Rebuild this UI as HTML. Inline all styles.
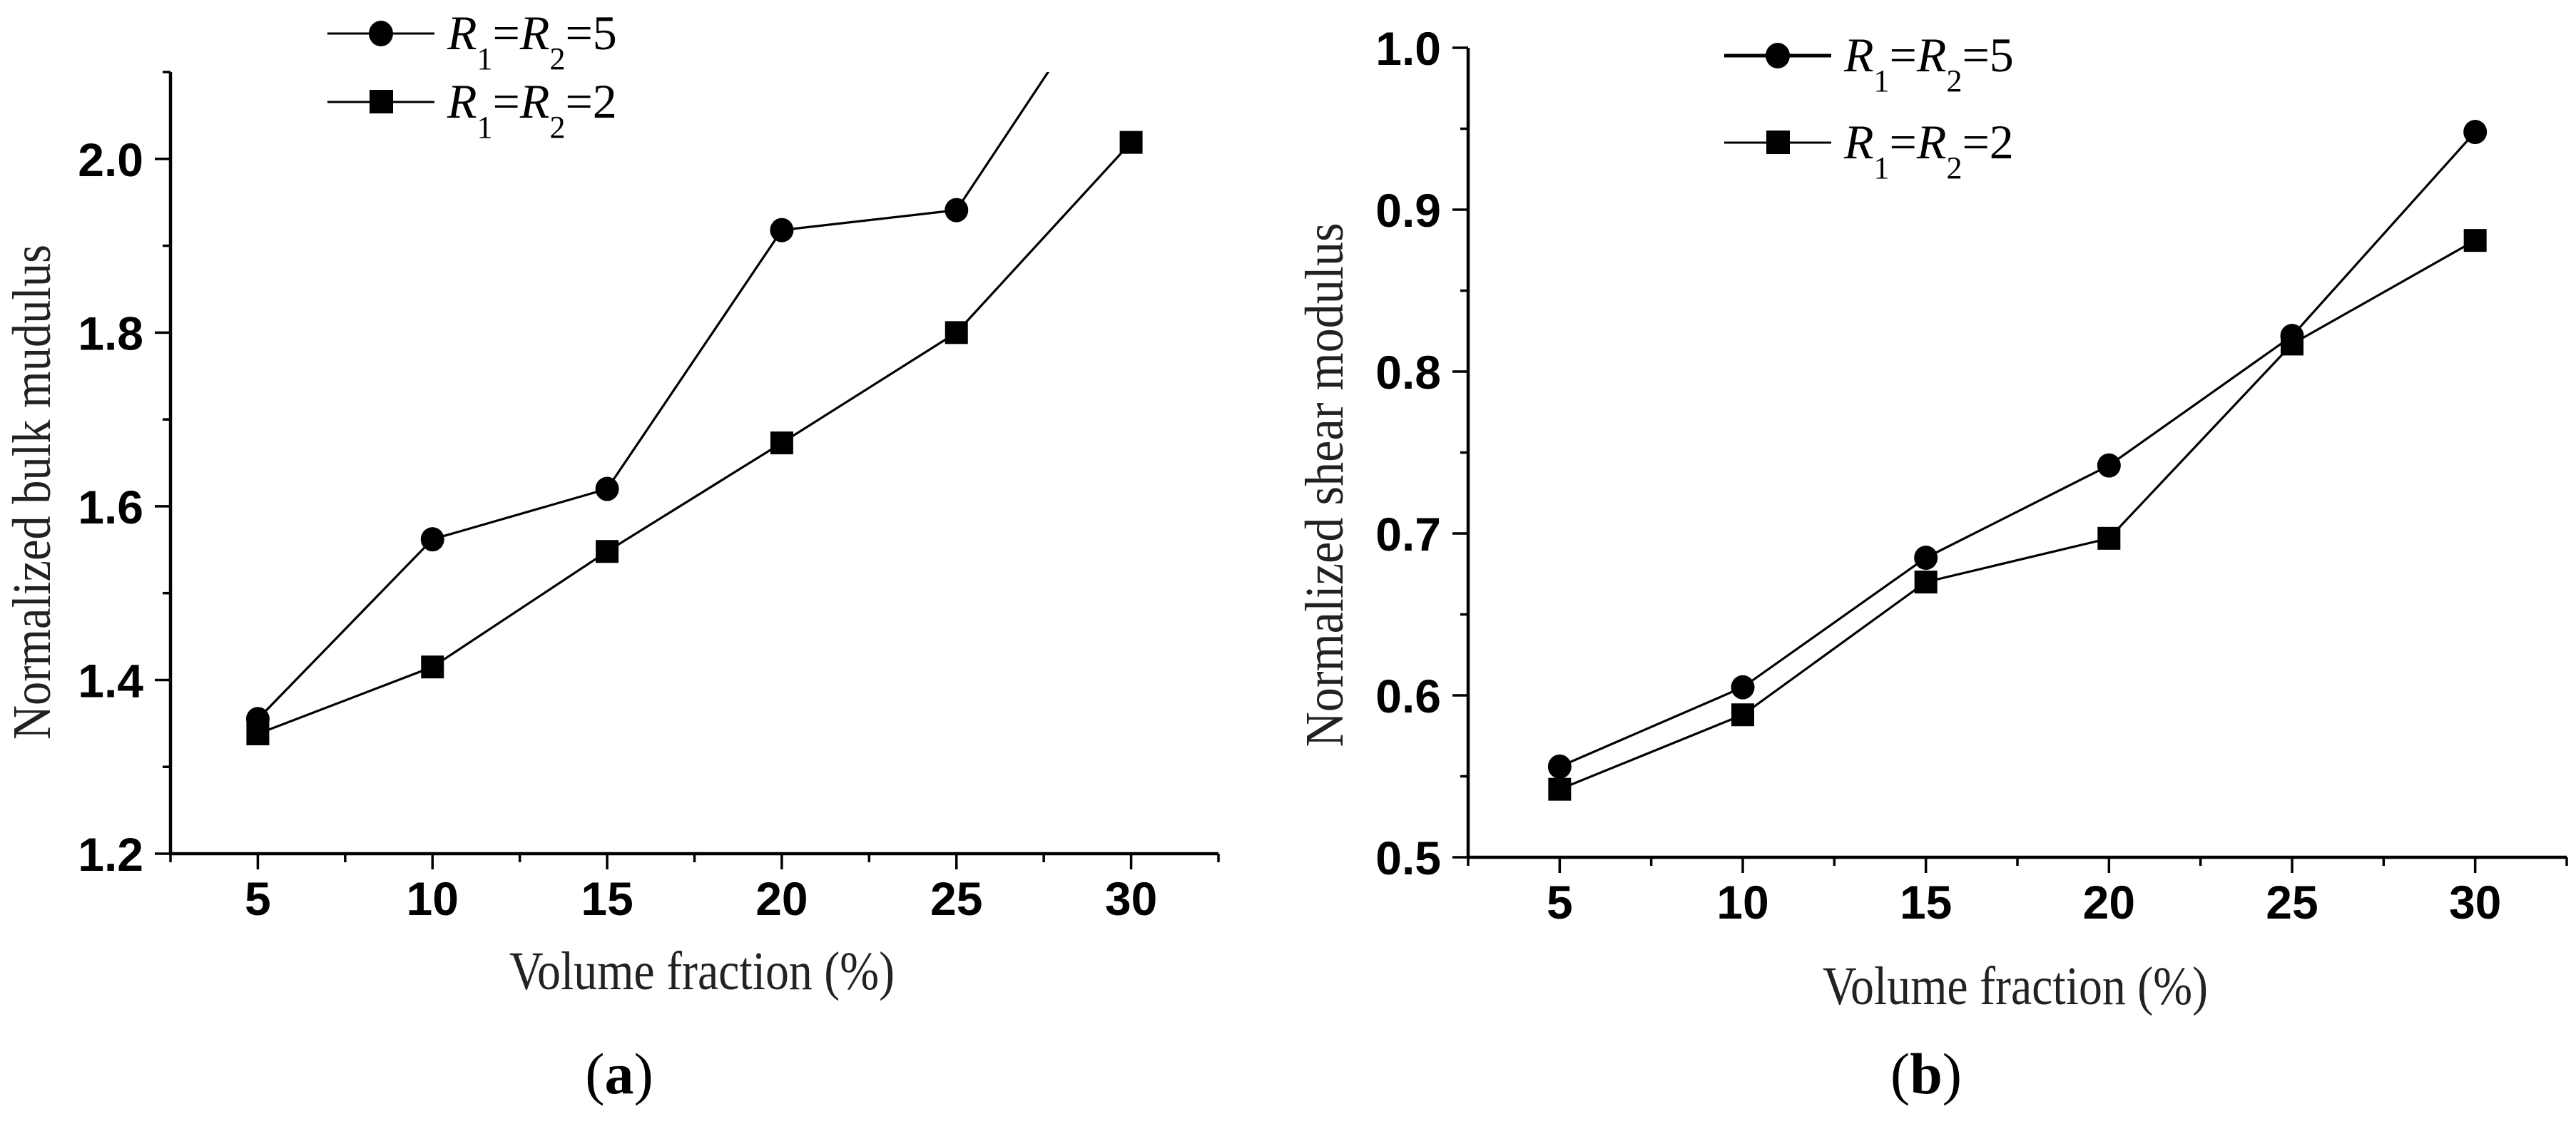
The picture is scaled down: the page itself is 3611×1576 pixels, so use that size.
<!DOCTYPE html>
<html><head><meta charset="utf-8">
<style>
html,body{margin:0;padding:0;background:#fff;}
svg{display:block;}
.tick{font-family:"Liberation Sans",Arial,sans-serif;font-weight:bold;font-size:66px;fill:#000;}
.title{font-family:"Liberation Serif","Times New Roman",serif;font-size:76px;fill:#222;}
.leg{font-family:"Liberation Serif","Times New Roman",serif;font-size:68px;fill:#000;}
.cap{font-family:"Liberation Serif","Times New Roman",serif;font-size:82px;fill:#000;}
</style></head>
<body>
<svg id="fig" width="3611" height="1576" viewBox="0 0 3611 1576" xmlns="http://www.w3.org/2000/svg">
<defs>
<clipPath id="clipA"><rect x="239" y="101" width="1470" height="1100"/></clipPath>
<clipPath id="clipB"><rect x="2058" y="60" width="1545" height="1145"/></clipPath>
</defs>
</svg>
<script>
// ---- data ----
const categories = [5, 10, 15, 20, 25, 30];
const bulkR5 = [1.355, 1.562, 1.620, 1.918, 1.941, 2.244];
const bulkR2 = [1.338, 1.415, 1.548, 1.673, 1.800, 2.019];
const shearR5 = [0.556, 0.605, 0.685, 0.742, 0.822, 0.948];
const shearR2 = [0.542, 0.588, 0.670, 0.697, 0.817, 0.881];
const xTickLabels = ["5", "10", "15", "20", "25", "30"];
const bulkYTicks = ["1.2", "1.4", "1.6", "1.8", "2.0"];
const shearYTicks = ["0.5", "0.6", "0.7", "0.8", "0.9", "1.0"];

const NS = "http://www.w3.org/2000/svg";
const svg = document.getElementById("fig");
function mk(tag, attrs, parent) {
  const e = document.createElementNS(NS, tag);
  for (const k in attrs) e.setAttribute(k, attrs[k]);
  (parent || svg).appendChild(e);
  return e;
}

function panel(cfg) {
  const g = mk("g", {});
  
  
  const X = v => cfg.x0 + (v - cfg.xmin) / (cfg.xmax - cfg.xmin) * (cfg.x1 - cfg.x0);
  const Y = v => cfg.y0 - (v - cfg.ymin) / (cfg.ymax - cfg.ymin) * (cfg.y0 - cfg.y1);
  const ax = mk("path", {d: `M${cfg.x0} ${cfg.y1} V${cfg.y0} H${cfg.x1}`, fill: "none", stroke: "#000", "stroke-width": 4.5}, g);
  
  
  for (let v = 2.5; v <= 32.5 + 0.01; v += 2.5) {
    const major = Math.abs(v % 5) < 0.01;
    const t = mk("line", {x1: X(v), x2: X(v), y1: cfg.y0, y2: cfg.y0 + (major ? 22 : 12), stroke: "#000", "stroke-width": 3.5}, g);
    
    
  }
  xTickLabels.forEach((lab, i) => {
    const t = mk("text", {x: X(categories[i]), y: cfg.y0 + 86, "text-anchor": "middle", class: "tick"}, g);
    t.textContent = lab;
    
    
  });
  const nMinor = Math.round((cfg.ymax - cfg.ymin) / cfg.minor);
  for (let i = 0; i <= nMinor; i++) {
    const v = cfg.ymin + i * cfg.minor;
    const major = i % 2 === 0;
    const t = mk("line", {x1: cfg.x0, x2: cfg.x0 - (major ? 22 : 11), y1: Y(v), y2: Y(v), stroke: "#000", "stroke-width": 3.5}, g);
    
    
  }
  cfg.yTicks.forEach(lab => {
    const t = mk("text", {x: cfg.x0 - 38, y: Y(parseFloat(lab)) + 24, "text-anchor": "end", class: "tick"}, g);
    t.textContent = lab;
    
    
  });
  const drawSeries = (vals, kind, name) => {
    const sg = mk("g", {"clip-path": `url(#${cfg.clip})`}, g);
    
    
    const pts = vals.map((v, i) => X(categories[i]) + "," + Y(v)).join(" ");
    const pl = mk("polyline", {points: pts, fill: "none", stroke: "#000", "stroke-width": 3.2}, sg);
    
    
    vals.forEach((v, i) => {
      let m;
      if (kind === "circle") m = mk("ellipse", {cx: X(categories[i]), cy: Y(v), rx: 16.5, ry: 17, fill: "#000"}, sg);
      else m = mk("rect", {x: X(categories[i]) - 16, y: Y(v) - 16, width: 32, height: 32, fill: "#000"}, sg);
      
      
    });
  };
  drawSeries(cfg.s5, "circle", "series-r5");
  drawSeries(cfg.s2, "square", "series-r2");
  const legend = (yy, kind, valText, bold) => {
    const lg = mk("g", {}, g);
    
    
    const lx = cfg.legX;
    mk("line", {x1: lx, x2: lx + 150, y1: yy, y2: yy, stroke: "#000", "stroke-width": bold ? 5 : 3}, lg);
    if (kind === "circle") mk("ellipse", {cx: lx + 75, cy: yy, rx: 17, ry: 18, fill: "#000"}, lg);
    else mk("rect", {x: lx + 59, y: yy - 17, width: 33, height: 33, fill: "#000"}, lg);
    const t = mk("text", {x: lx + 168, y: yy + 22, class: "leg"}, lg);
    t.innerHTML = '<tspan font-style="italic">R</tspan><tspan font-size="44" dy="28">1</tspan><tspan dy="-28">=</tspan><tspan font-style="italic">R</tspan><tspan font-size="44" dy="28">2</tspan><tspan dy="-28">=' + valText + '</tspan>';
  };
  legend(cfg.legY1, "circle", "5", cfg.boldLeg);
  legend(cfg.legY2, "square", "2", false);
  const xt = mk("text", {x: cfg.xtX, y: cfg.xtY, "text-anchor": "middle", class: "title", textLength: 540, lengthAdjust: "spacingAndGlyphs"}, g);
  xt.textContent = "Volume fraction (%)";
  
  
  const yt = mk("text", {x: 0, y: 0, "text-anchor": "middle", class: "title", textLength: cfg.ytLen, lengthAdjust: "spacingAndGlyphs", transform: `translate(${cfg.ytX},${cfg.ytY}) rotate(-90)`}, g);
  yt.textContent = cfg.ytitle;
  
  
  const cp = mk("text", {x: cfg.capX, y: 1533, "text-anchor": "middle", class: "cap"}, g);
  cp.innerHTML = '(<tspan font-weight="bold">' + cfg.cap + '</tspan>)';
  
  
}

panel({name: "panel-a-bulk", x0: 239, x1: 1708, y0: 1197, y1: 101, xmin: 2.5, xmax: 32.5,
  ymin: 1.2, ymax: 2.1, minor: 0.1, yTicks: bulkYTicks, s5: bulkR5, s2: bulkR2, clip: "clipA",
  legX: 459, legY1: 47, legY2: 143, boldLeg: false, xtX: 984, xtY: 1387, ytX: 70, ytY: 690, ytLen: 694,
  ytitle: "Normalized bulk mudulus", capX: 868, cap: "a"});
panel({name: "panel-b-shear", x0: 2058, x1: 3598, y0: 1202, y1: 67, xmin: 2.5, xmax: 32.5,
  ymin: 0.5, ymax: 1.0, minor: 0.05, yTicks: shearYTicks, s5: shearR5, s2: shearR2, clip: "clipB",
  legX: 2417, legY1: 78, legY2: 200, boldLeg: true, xtX: 2825, xtY: 1408, ytX: 1882, ytY: 680, ytLen: 735,
  ytitle: "Normalized shear modulus", capX: 2700, cap: "b"});
</script>
</body></html>
